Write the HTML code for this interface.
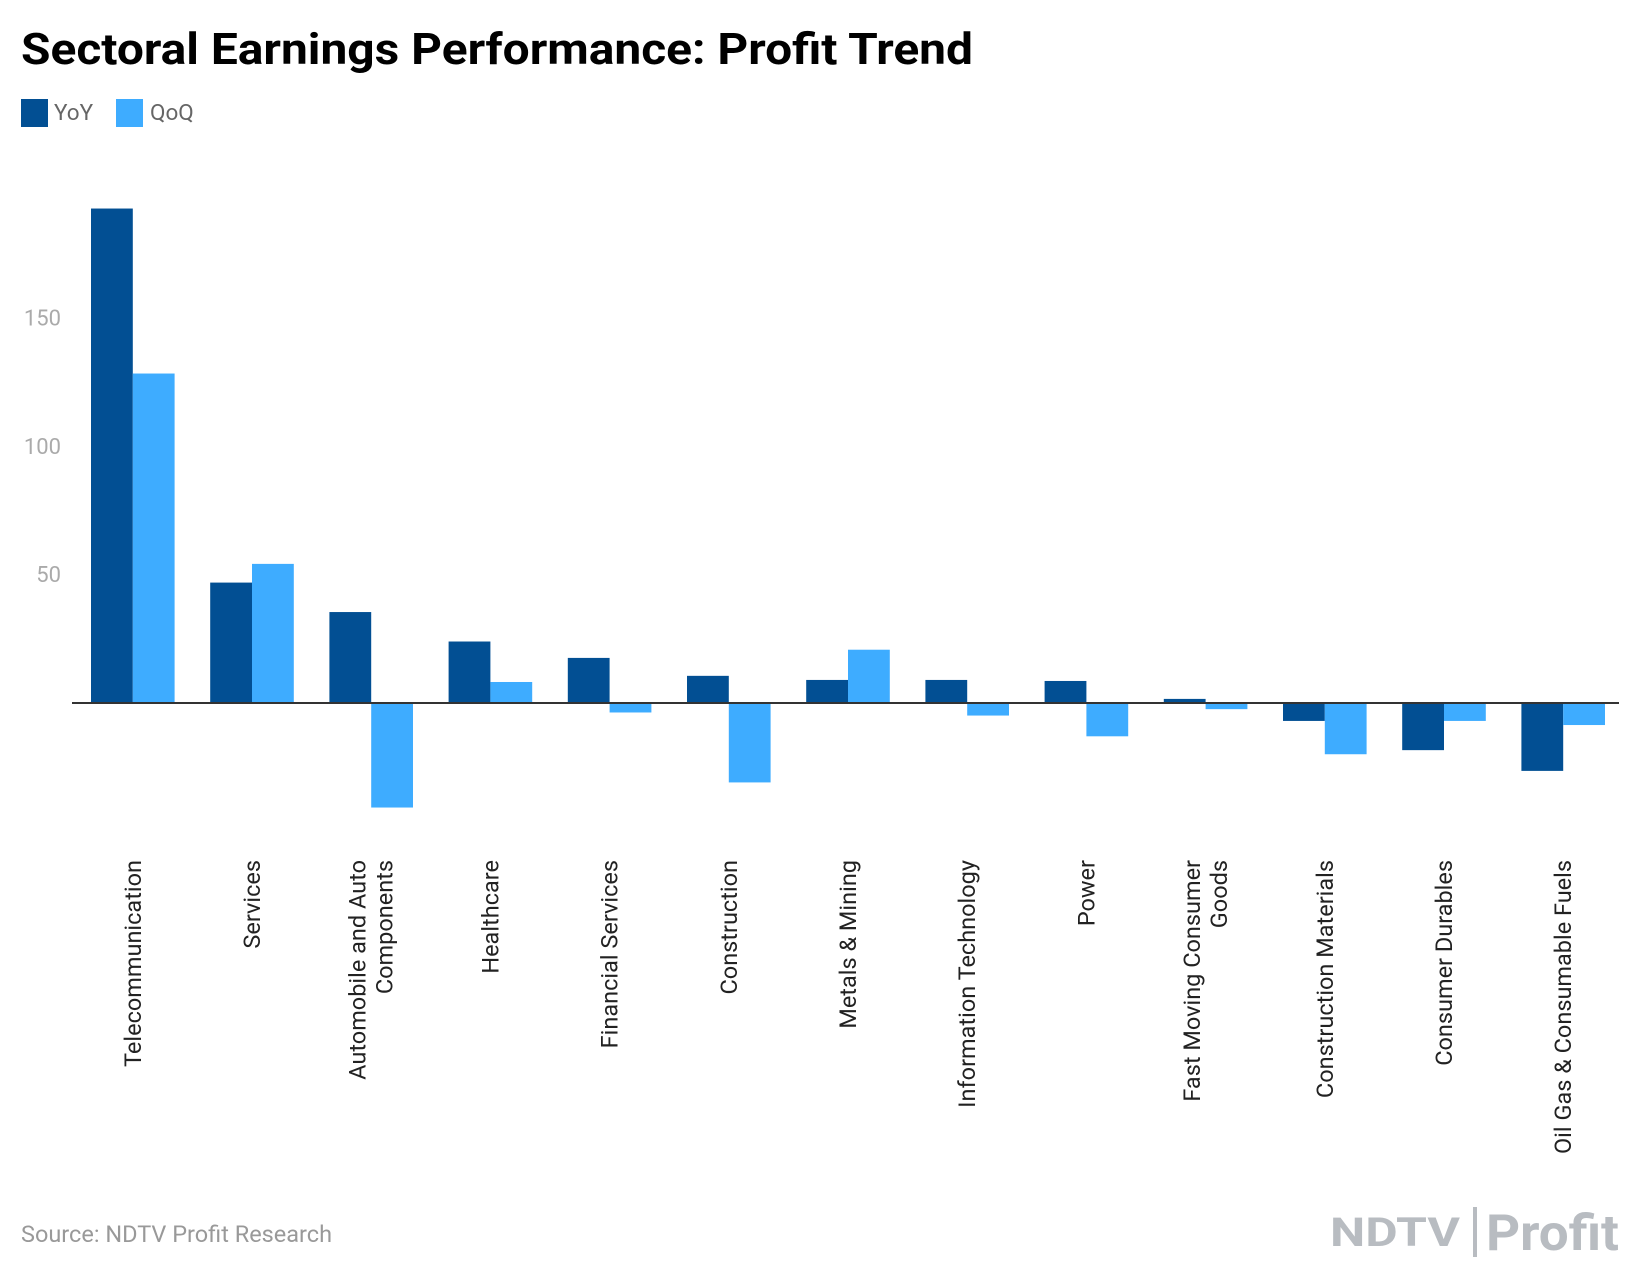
<!DOCTYPE html>
<html><head><meta charset="utf-8">
<style>
html,body{margin:0;padding:0;background:#fff;}
svg{display:block;font-family:"Roboto","Liberation Sans",sans-serif;}
</style></head>
<body>
<svg id="chart" width="1640" height="1284" viewBox="0 0 1640 1284" xmlns="http://www.w3.org/2000/svg">
<text x="21" y="64" font-size="44" font-weight="bold" fill="#000" textLength="952" lengthAdjust="spacingAndGlyphs">Sectoral Earnings Performance: Profit Trend</text>
<rect x="21" y="99" width="27" height="28" fill="#024f93"/>
<text x="54" y="120" font-size="22.5" fill="#666">YoY</text>
<rect x="116" y="99" width="27" height="28" fill="#3eacff"/>
<text x="150" y="120" font-size="22.5" fill="#666">QoQ</text>
<g id="yticks"></g>
<g id="bars"></g>
<line x1="72" x2="1619" y1="703" y2="703" stroke="#333" stroke-width="2"/>
<g id="xlabels"></g>
<text x="21" y="1242" font-size="23.5" fill="#999">Source: NDTV Profit Research</text>
<g>
<text x="1330" y="1246" font-size="40" font-weight="bold" fill="#b8bcc1" textLength="130" lengthAdjust="spacingAndGlyphs">NDTV</text>
<rect x="1473" y="1207" width="4" height="50" fill="#b8bcc1"/>
<text x="1486" y="1250" font-size="50" font-weight="bold" fill="#b8bcc1" textLength="133" lengthAdjust="spacingAndGlyphs">Profit</text>
</g>
</svg>
<script>
const categories = [["Telecommunication"],["Services"],["Automobile and Auto","Components"],["Healthcare"],["Financial Services"],["Construction"],["Metals & Mining"],["Information Technology"],["Power"],["Fast Moving Consumer","Goods"],["Construction Materials"],["Consumer Durables"],["Oil Gas & Consumable Fuels"]];
const yoyValues = [193, 47, 35.5, 24, 17.6, 10.6, 9, 9, 8.6, 1.6, -7, -18.4, -26.5];
const qoqValues = [128.6, 54.3, -40.8, 8.2, -3.7, -31, 20.8, -4.9, -13, -2.4, -20, -7, -8.6];
const yTicks = [50, 100, 150];

const NS = "http://www.w3.org/2000/svg";
const zeroY = 703, pxPerUnit = 2.562;
const x0 = 91, step = 119.2, barW = 41.8;
function yScale(v){ return zeroY - v * pxPerUnit; }
function xScale(i){ return x0 + i * step; }

const yt = document.getElementById('yticks');
yTicks.forEach(t => {
  const el = document.createElementNS(NS,'text');
  
  
  el.setAttribute('x', 61); el.setAttribute('y', yScale(t) + 7);
  el.setAttribute('text-anchor','end'); el.setAttribute('font-size','22'); el.setAttribute('fill','#aaa');
  el.textContent = t; yt.appendChild(el);
});

const bars = document.getElementById('bars');
function bar(i, v, off, color, name){
  const r = document.createElementNS(NS,'rect');
  
  
  const y1 = yScale(Math.max(v,0)), y2 = yScale(Math.min(v,0));
  r.setAttribute('x', xScale(i) + off); r.setAttribute('width', barW);
  r.setAttribute('y', y1); r.setAttribute('height', Math.max(y2 - y1, 0.5));
  r.setAttribute('fill', color); bars.appendChild(r);
}
yoyValues.forEach((v,i) => bar(i, v, 0, '#024f93', 'bar-yoy'));
qoqValues.forEach((v,i) => bar(i, v, barW, '#3eacff', 'bar-qoq'));

const xl = document.getElementById('xlabels');
categories.forEach((lines,i) => {
  const cx = xScale(i) + barW;
  lines.forEach((ln,j) => {
    const dx = (j - (lines.length-1)/2) * 27;
    const bx = cx + dx + 8, by = 860;
    const t = document.createElementNS(NS,'text');
    
    
    t.setAttribute('x', bx); t.setAttribute('y', by);
    t.setAttribute('transform', `rotate(-90 ${bx} ${by})`);
    t.setAttribute('text-anchor', 'end');
    t.setAttribute('font-size','23.5'); t.setAttribute('fill','#222');
    t.textContent = ln; xl.appendChild(t);
  });
});
</script>
</body></html>
